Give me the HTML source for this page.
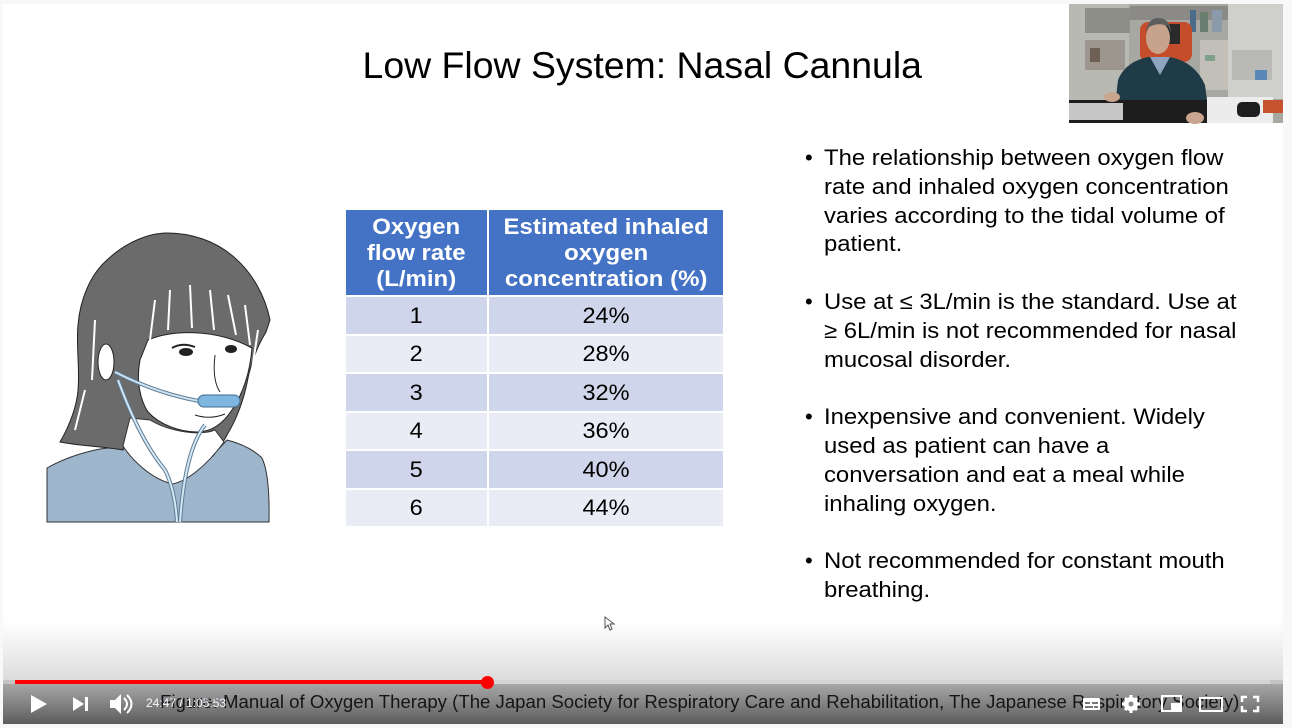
<!DOCTYPE html>
<html><head><meta charset="utf-8"><style>
html,body{margin:0;padding:0;}
body{width:1292px;height:728px;background:#f8f8f8;position:relative;overflow:hidden;font-family:"Liberation Sans",Arial,sans-serif;}
.slide{position:absolute;left:3px;top:4px;width:1280px;height:720px;background:#fff;overflow:hidden;}
.abs{position:absolute;}
.title{position:absolute;left:-4px;top:47px;width:1292px;text-align:center;font-size:36.7px;line-height:37.5px;color:#000;}
.title span{display:inline-block;transform:scaleX(1.02);}
.cell{position:absolute;display:flex;align-items:center;justify-content:center;text-align:center;}
.cell span{display:inline-block;}
.hd{background:#4472c4;color:#fff;font-weight:bold;font-size:22px;line-height:26px;}
.hd span{transform:scaleX(1.09);}
.r1{background:#cfd5ea;}
.r2{background:#e9ebf5;}
.num{font-size:22px;color:#000;}
.num span{transform:scaleX(1.07);}
.bl{position:absolute;left:824px;font-size:22px;line-height:28.8px;color:#000;white-space:nowrap;transform:scaleX(1.085);transform-origin:0 0;}
.bd{position:absolute;left:805px;font-size:22px;line-height:28.8px;color:#000;}
.cap{position:absolute;left:160px;top:691px;font-size:18px;line-height:22px;color:#151515;white-space:nowrap;transform:scaleX(1.033);transform-origin:0 0;}
.time{position:absolute;left:146px;top:696px;font-size:12px;line-height:14px;color:#f4f8ff;white-space:nowrap;}
</style></head><body>
<div class="slide"></div>

<!-- webcam -->
<svg class="abs" style="left:0;top:0" width="1292" height="728">
  <rect x="1069" y="4" width="214" height="119" fill="#a8a8a3"/>
  <rect x="1069" y="4" width="60" height="119" fill="#b9b9b4"/>
  <rect x="1085" y="8" width="45" height="25" fill="#8e8e88"/>
  <rect x="1085" y="40" width="40" height="30" fill="#9c968e"/>
  <rect x="1090" y="48" width="10" height="14" fill="#6e5f55"/>
  <rect x="1130" y="6" width="100" height="14" fill="#8c8a86"/>
  <rect x="1190" y="10" width="6" height="22" fill="#4b6b8a"/>
  <rect x="1200" y="12" width="8" height="20" fill="#6a7f70"/>
  <rect x="1212" y="10" width="10" height="22" fill="#8a9aaa"/>
  <rect x="1228" y="4" width="55" height="95" fill="#cfcfcc"/>
  <rect x="1232" y="50" width="40" height="30" fill="#b9b9b6"/>
  <rect x="1255" y="70" width="12" height="10" fill="#5a86b8"/>
  <rect x="1200" y="40" width="28" height="50" fill="#c2bfb9"/>
  <rect x="1205" y="55" width="10" height="6" fill="#7fa08a"/>
  <rect x="1140" y="22" width="52" height="40" rx="8" fill="#c64d2c"/>
  <rect x="1150" y="24" width="30" height="20" fill="#2a2a2a"/>
  <ellipse cx="1158" cy="38" rx="12" ry="16" fill="#c7a38c"/>
  <path d="M1146,32 Q1148,18 1158,18 Q1170,18 1171,32 L1168,26 Q1158,22 1149,27 Z" fill="#5e5e5e"/>
  <path d="M1113,123 L1118,80 Q1125,62 1148,57 L1170,57 Q1195,62 1205,85 L1210,123 Z" fill="#1f3b47"/>
  <path d="M1150,57 L1160,75 L1170,57 Z" fill="#8fa4bf"/>
  <rect x="1069" y="100" width="150" height="23" fill="#1d1d1d"/>
  <rect x="1069" y="103" width="54" height="17" fill="#c6c6c6"/>
  <rect x="1207" y="97" width="66" height="26" fill="#ececec"/>
  <rect x="1237" y="102" width="23" height="15" rx="5" fill="#1e1e1e"/>
  <rect x="1263" y="100" width="20" height="13" fill="#c6532e"/>
  <ellipse cx="1195" cy="118" rx="9" ry="6" fill="#c9a48e"/>
  <ellipse cx="1112" cy="97" rx="8" ry="5" fill="#c9a48e"/>
</svg>

<div class="title"><span>Low Flow System: Nasal Cannula</span></div>

<!-- illustration -->
<svg class="abs" style="left:0;top:0" width="1292" height="728">
  <path d="M47,468 Q70,455 100,449 L123,446 Q150,478 172,484 Q200,470 227,440 Q250,446 262,458 Q270,475 269,522 L47,522 Z" fill="#9db6cc" stroke="#333" stroke-width="1"/>
  <path d="M60,442 C70,425 77,405 78,390 C80,370 76,345 78,325 C80,300 90,275 107,260 C125,243 148,233 167,233 C190,233 215,240 235,258 C252,273 265,295 270,320 L266,332 C258,345 252,360 248,378 C244,400 236,420 227,435 C222,445 217,450 213,456 L205,435 L128,432 L123,450 C100,446 80,446 60,442 Z" fill="#6b6b6b" stroke="#222" stroke-width="1"/>
  <path d="M123,446 L130,418 L150,420 C170,432 200,436 215,430 L224,442 C205,468 185,482 172,484 C150,478 132,460 123,446 Z" fill="#fff" stroke="#333" stroke-width="1"/>
  <path d="M148,340 C170,330 215,328 252,348 C250,372 244,392 232,410 C222,425 210,432 197,432 C180,432 160,425 148,412 C140,400 136,380 140,360 Z" fill="#fff" stroke="#222" stroke-width="1"/>
  <ellipse cx="106" cy="362" rx="8" ry="18" fill="#fff" stroke="#222" stroke-width="1"/>
  <g stroke="#fff" stroke-width="2" fill="none">
    <path d="M155,300 L150,340"/><path d="M170,290 L168,330"/><path d="M190,285 L192,328"/>
    <path d="M210,290 L214,330"/><path d="M228,295 L236,335"/><path d="M245,305 L250,345"/>
    <path d="M95,320 L92,380"/><path d="M85,390 L75,430"/><path d="M258,330 L252,370"/>
  </g>
  <path d="M172,348 Q182,342 195,347" stroke="#222" stroke-width="2" fill="none"/>
  <ellipse cx="186" cy="352" rx="7" ry="4" fill="#222"/>
  <ellipse cx="231" cy="349" rx="6" ry="4" fill="#222"/>
  <path d="M215,355 Q212,380 220,392" stroke="#222" stroke-width="1" fill="none"/>
  <path d="M195,415 Q210,420 225,414" stroke="#222" stroke-width="1" fill="none"/>
  <path d="M115,372 Q160,395 205,402" stroke="#5d7c95" stroke-width="4" fill="none"/>
  <path d="M115,372 Q160,395 205,402" stroke="#cde3f2" stroke-width="2" fill="none"/>
  <rect x="198" y="395" width="42" height="12" rx="6" fill="#7fb6e0" stroke="#3c6b90" stroke-width="1"/>
  <path d="M118,380 Q140,440 165,470 Q175,490 177,522" stroke="#5d7c95" stroke-width="4" fill="none"/>
  <path d="M118,380 Q140,440 165,470 Q175,490 177,522" stroke="#d6e8f4" stroke-width="2" fill="none"/>
  <path d="M205,425 Q185,450 180,522" stroke="#5d7c95" stroke-width="4" fill="none"/>
  <path d="M205,425 Q185,450 180,522" stroke="#d6e8f4" stroke-width="2" fill="none"/>
</svg>

<!-- table -->
<div class="cell hd" style="left:346px;top:210px;width:141px;height:85px;"><span>Oxygen<br>flow rate<br>(L/min)</span></div>
<div class="cell hd" style="left:489px;top:210px;width:234px;height:85px;"><span>Estimated inhaled<br>oxygen<br>concentration (%)</span></div>

<div class="cell r1 num" style="left:346px;top:297px;width:141px;height:37px;"><span>1</span></div>
<div class="cell r1 num" style="left:489px;top:297px;width:234px;height:37px;"><span>24%</span></div>
<div class="cell r2 num" style="left:346px;top:336px;width:141px;height:36px;"><span>2</span></div>
<div class="cell r2 num" style="left:489px;top:336px;width:234px;height:36px;"><span>28%</span></div>
<div class="cell r1 num" style="left:346px;top:374px;width:141px;height:37px;"><span>3</span></div>
<div class="cell r1 num" style="left:489px;top:374px;width:234px;height:37px;"><span>32%</span></div>
<div class="cell r2 num" style="left:346px;top:413px;width:141px;height:36px;"><span>4</span></div>
<div class="cell r2 num" style="left:489px;top:413px;width:234px;height:36px;"><span>36%</span></div>
<div class="cell r1 num" style="left:346px;top:451px;width:141px;height:37px;"><span>5</span></div>
<div class="cell r1 num" style="left:489px;top:451px;width:234px;height:37px;"><span>40%</span></div>
<div class="cell r2 num" style="left:346px;top:490px;width:141px;height:36px;"><span>6</span></div>
<div class="cell r2 num" style="left:489px;top:490px;width:234px;height:36px;"><span>44%</span></div>

<!-- bullets -->
<div class="bd" style="top:144px">•</div>
<div class="bl" style="top:144px">The relationship between oxygen flow</div>
<div class="bl" style="top:172.8px">rate and inhaled oxygen concentration</div>
<div class="bl" style="top:201.6px">varies according to the tidal volume of</div>
<div class="bl" style="top:230.4px">patient.</div>

<div class="bd" style="top:288px">•</div>
<div class="bl" style="top:288px">Use at ≤ 3L/min is the standard. Use at</div>
<div class="bl" style="top:316.8px">≥ 6L/min is not recommended for nasal</div>
<div class="bl" style="top:345.6px">mucosal disorder.</div>

<div class="bd" style="top:403.2px">•</div>
<div class="bl" style="top:403.2px">Inexpensive and convenient. Widely</div>
<div class="bl" style="top:432px">used as patient can have a</div>
<div class="bl" style="top:460.8px">conversation and eat a meal while</div>
<div class="bl" style="top:489.6px">inhaling oxygen.</div>

<div class="bd" style="top:547.2px">•</div>
<div class="bl" style="top:547.2px">Not recommended for constant mouth</div>
<div class="bl" style="top:576px">breathing.</div>

<!-- cursor -->
<svg class="abs" style="left:604px;top:616px" width="12" height="16"><path d="M1,1 L1,12 L4,9 L6,14 L8,13 L6,8 L10,8 Z" fill="#fff" stroke="#555" stroke-width="1"/></svg>

<!-- player gradient -->
<div class="abs" style="left:3px;top:620px;width:1280px;height:60px;background:linear-gradient(to bottom,rgba(0,0,0,0),rgba(0,0,0,0.05) 40%,rgba(0,0,0,0.14));"></div>
<div class="abs" style="left:3px;top:680px;width:1280px;height:4px;background:#c4c4c4;"></div>
<div class="abs" style="left:3px;top:684px;width:1280px;height:40px;background:linear-gradient(to bottom,#a6a6a6,#8a8a8a 40%,#5b5b5b);"></div>

<!-- progress -->
<div class="abs" style="left:487px;top:680px;width:783px;height:4px;background:#d4d4d4;"></div>
<div class="abs" style="left:15px;top:680px;width:472px;height:4px;background:#ff0000;"></div>
<div class="abs" style="left:481px;top:676px;width:13px;height:13px;border-radius:50%;background:#ff0000;"></div>

<div class="cap">Figure: Manual of Oxygen Therapy (The Japan Society for Respiratory Care and Rehabilitation, The Japanese Respiratory Society)</div>
<div class="time">24:47 / 1:05:53</div>

<!-- controls -->
<svg class="abs" style="left:0;top:0" width="1292" height="728">
  <path d="M31,695 L47,704 L31,713 Z" fill="#fff"/>
  <path d="M73,697 L84,704 L73,711 Z" fill="#fff"/>
  <rect x="85" y="697" width="3" height="14" fill="#fff"/>
  <path d="M110,700 L115,700 L121,694 L121,714 L115,708 L110,708 Z" fill="#fff"/>
  <path d="M124,698 Q130,704 124,710" stroke="#fff" stroke-width="2" fill="none"/>
  <path d="M127,695 Q136,704 127,713" stroke="#fff" stroke-width="2" fill="none"/>
  <rect x="1083" y="698" width="17" height="12" rx="1" fill="#fff"/>
  <rect x="1085" y="702" width="5" height="2" fill="#777"/><rect x="1092" y="702" width="6" height="2" fill="#777"/>
  <rect x="1085" y="706" width="8" height="2" fill="#777"/><rect x="1094" y="706" width="4" height="2" fill="#777"/>
  <circle cx="1131" cy="704" r="7" fill="#fff"/>
  <g stroke="#fff" stroke-width="3"><path d="M1131,695 L1131,713"/><path d="M1122,704 L1140,704"/><path d="M1125,698 L1137,710"/><path d="M1137,698 L1125,710"/></g>
  <circle cx="1131" cy="704" r="2.5" fill="#888"/>
  <rect x="1162" y="696" width="19" height="15" fill="none" stroke="#fff" stroke-width="2"/>
  <rect x="1171" y="703" width="9" height="7" fill="#fff"/>
  <rect x="1200" y="698" width="22" height="13" fill="none" stroke="#fff" stroke-width="2"/>
  <g stroke="#fff" stroke-width="2.5" fill="none">
    <path d="M1242,702 L1242,697 L1247,697"/><path d="M1253,697 L1258,697 L1258,702"/>
    <path d="M1242,706 L1242,711 L1247,711"/><path d="M1253,711 L1258,711 L1258,706"/>
  </g>
</svg>
</body></html>
